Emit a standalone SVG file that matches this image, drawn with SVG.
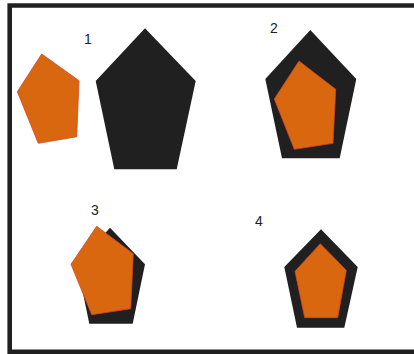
<svg xmlns="http://www.w3.org/2000/svg" width="414" height="354" viewBox="0 0 414 354">
<style>
.blk{fill:#202020}
.org{fill:#d96710;stroke:#d2452a;stroke-width:0.8;stroke-linejoin:round}
.lbl{font-family:"Liberation Sans",Arial,sans-serif;font-size:14px;fill:#222;text-anchor:middle}
</style>
<rect width="414" height="354" fill="#fff"/>
<path d="M9.7,354 V5.5 H414 M9.7,351.8 H414" fill="none" stroke="#202020" stroke-width="4.6"/>
<g id="step1">
<polygon class="org" points="41.7,54 79,80.7 76.7,136.7 38.3,143.3 17.3,91.7"/>
<polygon class="blk" points="145,28.3 195.7,81 176.7,169.3 114.3,169.3 95.7,81"/>
<text class="lbl" x="88" y="44">1</text>
</g>
<g id="step2">
<polygon class="blk" points="310.3,30 356.3,79 339.7,158.3 282,158.3 265.3,79"/>
<polygon class="org" points="299,61 335.7,89.3 333,143.3 294.3,149.3 274.3,99"/>
<text class="lbl" x="274" y="33">2</text>
</g>
<g id="step3">
<polygon class="blk" points="110,227.7 145,264.3 132.7,323.7 89.3,323.7 77,264.3"/>
<polygon class="org" points="96.7,226.3 133.3,253.7 130.7,308.7 91.7,314.7 71,264.3"/>
<text class="lbl" x="95" y="215">3</text>
</g>
<g id="step4">
<polygon class="blk" points="321,229.3 357.7,267 344.3,327.7 297,327.7 284.3,267"/>
<polygon class="org" points="320.3,243.7 346.3,270.3 337.7,317.7 304.7,317.7 295,271.3"/>
<text class="lbl" x="259" y="226">4</text>
</g>
</svg>
